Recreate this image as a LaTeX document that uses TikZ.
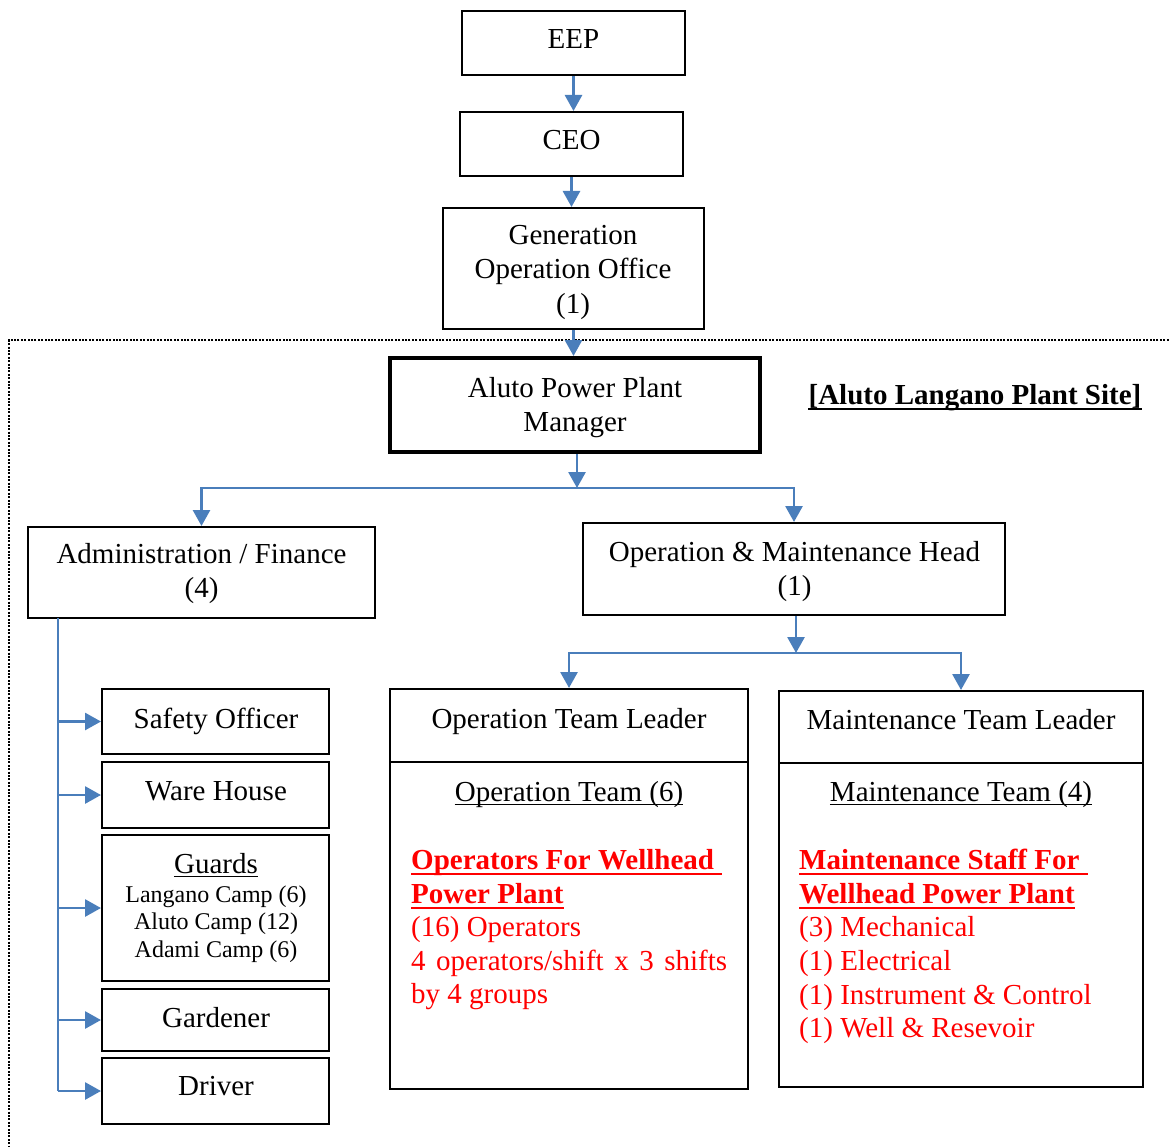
\documentclass[tikz,border=0pt]{standalone}
\usepackage{fontspec}
\setmainfont{Liberation Serif}
\usetikzlibrary{arrows.meta}
\definecolor{linkblue}{RGB}{74,126,187}
\definecolor{staffred}{RGB}{255,0,0}
\begin{document}
\begin{tikzpicture}[x=1pt,y=-1pt,
  box/.style={draw=black, line width=2pt, inner sep=0pt},
  link/.style={draw=linkblue, line width=2.8pt},
  arr/.style={link, -{Triangle[width=17pt,length=16pt]}},
  lbl/.style={anchor=base, inner sep=0pt, font=\fontsize{29}{34}\selectfont},
  sublbl/.style={anchor=base, inner sep=0pt, font=\fontsize{24}{28}\selectfont},
  redlbl/.style={anchor=base west, inner sep=0pt, text=staffred, font=\fontsize{29}{34}\selectfont},
  redhead/.style={redlbl, font=\fontsize{29}{34}\selectfont\bfseries},
  blackrule/.style={draw=black, line width=1.6pt},
  redrule/.style={draw=staffred, line width=2.4pt},
  frame/.style={draw=black, line width=2.6pt, dash pattern=on 2pt off 1.4pt},
]
\useasboundingbox (0,0) rectangle (1169,1147);

% plant site boundary
\draw[frame] (1172,340) -- (9,340) -- (9,1150);

% boxes
\node[box, minimum width=223pt, minimum height=64pt] (eep) at (573.5,43) {};
\node[box, minimum width=223pt, minimum height=64pt] (ceo) at (571.5,144) {};
\node[box, minimum width=261pt, minimum height=121pt] (goo) at (573.5,268.5) {};
\node[box, line width=4pt, minimum width=370pt, minimum height=94pt] (apm) at (575,405) {};
\node[box, minimum width=347pt, minimum height=91pt] (admin) at (201.5,572.5) {};
\node[box, minimum width=422pt, minimum height=92pt] (om) at (794,569) {};
\node[box, minimum width=358pt, minimum height=400pt] (opl) at (569,889) {};
\node[box, minimum width=364pt, minimum height=396pt] (mtl) at (961,889) {};
\node[box, minimum width=227pt, minimum height=65pt] (safety) at (215.5,721.5) {};
\node[box, minimum width=227pt, minimum height=66pt] (ware) at (215.5,795) {};
\node[box, minimum width=227pt, minimum height=146pt] (guards) at (215.5,908) {};
\node[box, minimum width=227pt, minimum height=62pt] (garden) at (215.5,1020) {};
\node[box, minimum width=227pt, minimum height=66pt] (driver) at (215.5,1091) {};

% header dividers of the team boxes
\draw[blackrule, line width=2pt] ([yshift=-74pt]opl.north west) -- ([yshift=-74pt]opl.north east);
\draw[blackrule, line width=2pt] ([yshift=-73pt]mtl.north west) -- ([yshift=-73pt]mtl.north east);

% connectors
\coordinate (split) at (577,488);
\coordinate (split2) at (796,653);
\coordinate (bus) at (58,618);
\draw[arr] (eep.south) -- (eep.south |- ceo.north);
\draw[arr] (ceo.south) -- (ceo.south |- goo.north);
\draw[arr] (goo.south) -- (goo.south |- apm.north);
\draw[arr] (apm.south -| split) -- (split);
\draw[arr] (split) -| (admin.north);
\draw[arr] (split) -| (om.north);
\draw[arr] (om.south -| split2) -- (split2);
\draw[arr] (split2) -| (opl.north);
\draw[arr] (split2) -| (mtl.north);
\draw[link] (bus) -- (bus |- driver.west);
\foreach \n in {safety,ware,guards,garden,driver}
  \draw[arr] (bus |- \n.west) -- (\n.west);

% labels
\node[lbl] (eep-t) at (573.5,49) {EEP};
\node[lbl] (ceo-t) at (571.5,150) {CEO};
\node[lbl] (goo-t1) at (573,245) {Generation};
\node[lbl] (goo-t2) at (573,279) {Operation Office};
\node[lbl] (goo-t3) at (573,313) {(1)};
\node[lbl] (apm-t1) at (575,397) {Aluto Power Plant};
\node[lbl] (apm-t2) at (575,431) {Manager};
\node[lbl, font=\fontsize{29}{34}\selectfont\bfseries] (site) at (975,404) {[Aluto Langano Plant Site]};
\draw[blackrule, line width=2.2pt] ([yshift=-5pt]site.base west) -- ([yshift=-5pt]site.base east);
\node[lbl] (admin-t1) at (201.5,563) {Administration / Finance};
\node[lbl] (admin-t2) at (201.5,597) {(4)};
\node[lbl] (om-t1) at (794.5,561) {Operation \& Maintenance Head};
\node[lbl] (om-t2) at (794.5,595) {(1)};

\node[lbl] (safety-t) at (216,728) {Safety Officer};
\node[lbl] (ware-t) at (216,800) {Ware House};
\node[lbl] (guards-t) at (216,873) {Guards};
\draw[blackrule] ([yshift=-3.5pt]guards-t.base west) -- ([yshift=-3.5pt]guards-t.base east);
\node[sublbl] (guards-t1) at (216,902) {Langano Camp (6)};
\node[sublbl] (guards-t2) at (216,929) {Aluto Camp (12)};
\node[sublbl] (guards-t3) at (216,957) {Adami Camp (6)};
\node[lbl] (garden-t) at (216,1027) {Gardener};
\node[lbl] (driver-t) at (216,1095) {Driver};

\node[lbl] (opl-t) at (569,728) {Operation Team Leader};
\node[lbl] (opl-team) at (569,801) {Operation Team (6)};
\draw[blackrule] ([yshift=-3.5pt]opl-team.base west) -- ([yshift=-3.5pt]opl-team.base east);
\node[redhead] (opl-h1) at (411,869) {Operators For Wellhead};
\draw[redrule] ([yshift=-5pt]opl-h1.base west) -- ([xshift=8pt,yshift=-5pt]opl-h1.base east);
\node[redhead] (opl-h2) at (411,903) {Power Plant};
\draw[redrule] ([yshift=-5pt]opl-h2.base west) -- ([yshift=-5pt]opl-h2.base east);
\node[redlbl] (opl-r1) at (411,936) {(16) Operators};
\node[redlbl] (opl-r2) at (411,970) {\makebox[316pt][s]{4 operators/shift x 3 shifts}};
\node[redlbl] (opl-r3) at (411,1003) {by 4 groups};

\node[lbl] (mtl-t) at (961,729) {Maintenance Team Leader};
\node[lbl] (mtl-team) at (961,801) {Maintenance Team (4)};
\draw[blackrule] ([yshift=-3.5pt]mtl-team.base west) -- ([yshift=-3.5pt]mtl-team.base east);
\node[redhead] (mtl-h1) at (799,869) {Maintenance Staff For};
\draw[redrule] ([yshift=-5pt]mtl-h1.base west) -- ([xshift=8pt,yshift=-5pt]mtl-h1.base east);
\node[redhead] (mtl-h2) at (799,903) {Wellhead Power Plant};
\draw[redrule] ([yshift=-5pt]mtl-h2.base west) -- ([yshift=-5pt]mtl-h2.base east);
\node[redlbl] (mtl-r1) at (799,936) {(3) Mechanical};
\node[redlbl] (mtl-r2) at (799,970) {(1) Electrical};
\node[redlbl] (mtl-r3) at (799,1004) {(1) Instrument \& Control};
\node[redlbl] (mtl-r4) at (799,1037) {(1) Well \& Resevoir};
\end{tikzpicture}
\end{document}
